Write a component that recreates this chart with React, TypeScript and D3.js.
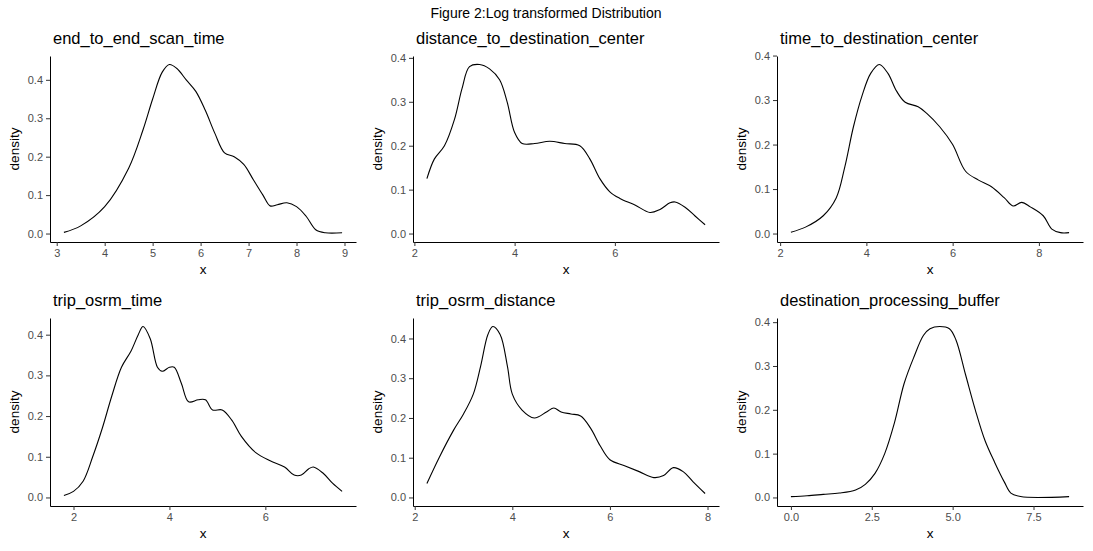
import React, { useEffect, useRef } from 'react';
import * as d3 from 'd3';

const titles = [
  'end_to_end_scan_time',
  'distance_to_destination_center',
  'time_to_destination_center',
  'trip_osrm_time',
  'trip_osrm_distance',
  'destination_processing_buffer',
];

const xTicks = [
  [3, 4, 5, 6, 7, 8, 9],
  [2, 4, 6],
  [2, 4, 6, 8],
  [2, 4, 6],
  [2, 4, 6, 8],
  [0, 2.5, 5, 7.5],
];
const yTicks = [0, 0.1, 0.2, 0.3, 0.4];

const d1: [number, number][] = [[3.15,0.003],[3.5,0.02],[4,0.07],[4.5,0.17],[4.8,0.27],[5,0.35],[5.2,0.42],[5.35,0.44],[5.5,0.43],[5.7,0.4],[5.9,0.37],[6.1,0.32],[6.3,0.26],[6.5,0.21],[6.7,0.2],[6.9,0.18],[7.1,0.14],[7.3,0.1],[7.45,0.072],[7.6,0.075],[7.8,0.08],[8,0.07],[8.2,0.045],[8.4,0.01],[8.6,0.002],[8.95,0.002]];
const d2: [number, number][] = [[2.25,0.125],[2.4,0.17],[2.6,0.2],[2.8,0.26],[2.95,0.33],[3.1,0.38],[3.3,0.385],[3.5,0.375],[3.7,0.35],[3.85,0.3],[4,0.23],[4.15,0.205],[4.4,0.205],[4.7,0.21],[5,0.205],[5.3,0.2],[5.5,0.17],[5.7,0.125],[5.9,0.095],[6.1,0.08],[6.4,0.065],[6.7,0.048],[6.9,0.055],[7.1,0.07],[7.2,0.072],[7.4,0.06],[7.6,0.04],[7.8,0.02]];
const d3s: [number, number][] = [[2.25,0.003],[2.6,0.015],[3,0.04],[3.3,0.08],[3.5,0.15],[3.7,0.24],[3.9,0.31],[4.1,0.36],[4.3,0.38],[4.5,0.36],[4.7,0.32],[4.9,0.295],[5.2,0.285],[5.4,0.27],[5.7,0.24],[6,0.2],[6.3,0.14],[6.6,0.12],[6.9,0.105],[7.2,0.08],[7.4,0.062],[7.6,0.07],[7.8,0.06],[8.1,0.04],[8.3,0.01],[8.5,0.002],[8.7,0.002]];
const d4: [number, number][] = [[1.8,0.005],[2,0.015],[2.2,0.04],[2.4,0.1],[2.6,0.17],[2.8,0.25],[3,0.32],[3.2,0.36],[3.35,0.4],[3.45,0.42],[3.6,0.39],[3.75,0.32],[3.85,0.31],[4,0.32],[4.1,0.32],[4.25,0.28],[4.4,0.235],[4.6,0.24],[4.75,0.24],[4.9,0.215],[5.1,0.215],[5.3,0.19],[5.5,0.15],[5.8,0.11],[6.1,0.09],[6.4,0.075],[6.6,0.055],[6.75,0.055],[6.9,0.07],[7,0.075],[7.2,0.06],[7.4,0.035],[7.6,0.015]];
const d5: [number, number][] = [[2.25,0.035],[2.5,0.1],[2.8,0.17],[3,0.21],[3.2,0.26],[3.35,0.33],[3.5,0.41],[3.6,0.43],[3.75,0.41],[3.9,0.33],[4,0.26],[4.2,0.22],[4.45,0.2],[4.7,0.215],[4.85,0.225],[5,0.215],[5.2,0.21],[5.4,0.205],[5.6,0.175],[5.8,0.13],[6,0.095],[6.3,0.08],[6.6,0.065],[6.9,0.05],[7.1,0.055],[7.3,0.075],[7.5,0.065],[7.7,0.04],[7.95,0.01]];
const d6: [number, number][] = [[0,0.002],[0.5,0.004],[1,0.007],[1.5,0.01],[2,0.017],[2.3,0.03],[2.6,0.055],[2.9,0.1],[3.2,0.17],[3.5,0.26],[3.8,0.32],[4.1,0.37],[4.3,0.385],[4.6,0.39],[4.9,0.385],[5.1,0.36],[5.4,0.28],[5.7,0.2],[6,0.13],[6.3,0.08],[6.6,0.035],[6.8,0.01],[7.1,0.002],[8.6,0.002]];
const series = [d1, d2, d3s, d4, d5, d6];

const colX = [50, 413, 777];
const rowY = [[56, 242], [318, 506]];
const plotW = 306;

const App: React.FC = () => {
  const svgRef = useRef<SVGSVGElement>(null);

  useEffect(() => {
    if (!svgRef.current) return;
    const svg = d3.select(svgRef.current);
    svg.selectAll('*').remove();
    svg.append('rect').attr('width', 1093).attr('height', 551).attr('fill', 'white');
    svg.append('text').attr('x', 546).attr('y', 18).attr('text-anchor', 'middle')
      .attr('font-size', 14).attr('font-family', 'Liberation Sans, Arial').text('Figure 2:Log transformed Distribution');

    series.forEach((data, i) => {
      const x0 = colX[i % 3];
      const [top, bottom] = rowY[Math.floor(i / 3)];
      const xe = d3.extent(data, (d) => d[0]) as [number, number];
      const pad = (xe[1] - xe[0]) * 0.05;
      const ymax = d3.max(data, (d) => d[1])!;
      const x = d3.scaleLinear().domain([xe[0] - pad, xe[1] + pad]).range([x0, x0 + plotW]);
      const y = d3.scaleLinear().domain([-ymax * 0.05, ymax * 1.05]).range([bottom, top]);
      const g = svg.append('g').attr('font-family', 'Liberation Sans, Arial');

      const xa = g.append('g').attr('transform', `translate(0,${bottom})`)
        .call(d3.axisBottom(x).tickValues(xTicks[i]).tickSize(4).tickSizeOuter(0).tickPadding(3)
          .tickFormat((v) => (i === 5 ? d3.format('.1f')(v as number) : String(v))));
      const ya = g.append('g').attr('transform', `translate(${x0},0)`)
        .call(d3.axisLeft(y).tickValues(yTicks).tickSize(4).tickSizeOuter(0).tickPadding(3).tickFormat(d3.format('.1f')));
      [xa, ya].forEach((a) => {
        a.select('.domain').attr('stroke', '#000').attr('stroke-width', 1);
        a.selectAll('line').attr('stroke', '#333');
        a.selectAll('text').attr('fill', '#4d4d4d').attr('font-size', 11).attr('font-family', 'Liberation Sans, Arial');
      });

      g.append('path').datum(data).attr('fill', 'none').attr('stroke', '#000').attr('stroke-width', 1.1)
        .attr('d', d3.line<[number, number]>().x((d) => x(d[0])).y((d) => y(d[1])).curve(d3.curveCatmullRom)(data)!);

      g.append('text').attr('x', x0 + 3).attr('y', top - 12).attr('font-size', 16.5).text(titles[i]);
      g.append('text').attr('x', x0 + plotW / 2).attr('y', bottom + 32).attr('text-anchor', 'middle')
        .attr('font-size', 13.5).text('x');
      g.append('text').attr('transform', `translate(${x0 - 31},${(top + bottom) / 2}) rotate(-90)`)
        .attr('text-anchor', 'middle').attr('font-size', 13.5).text('density');
    });
  }, []);

  return <svg ref={svgRef} width={1093} height={551} style={{ position: 'absolute', left: 0, top: 0 }} />;
};

export default App;
